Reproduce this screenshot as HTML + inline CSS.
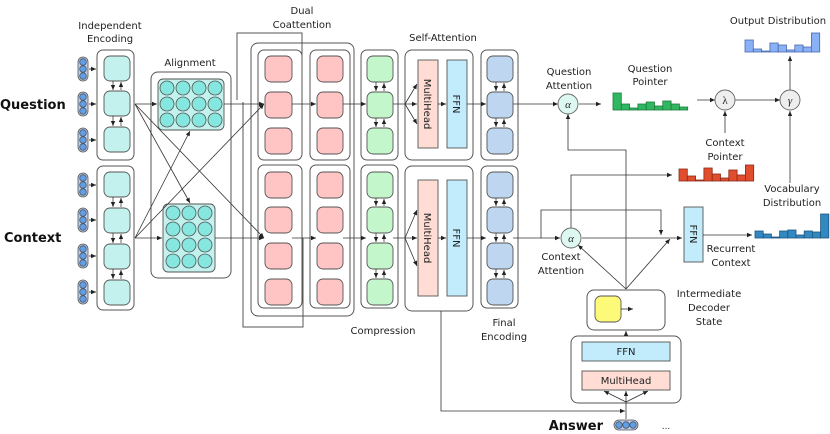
<!DOCTYPE html>
<html><head><meta charset="utf-8"><style>
html,body{margin:0;padding:0;background:#fff;}
svg{display:block;font-family:"DejaVu Sans","Liberation Sans",sans-serif;}
</style></head><body>
<svg width="830" height="434" viewBox="0 0 830 434" xmlns="http://www.w3.org/2000/svg">
<defs>
<marker id="a" markerWidth="6" markerHeight="6" refX="5" refY="3" orient="auto" markerUnits="userSpaceOnUse"><path d="M0,0.8 L5,3 L0,5.2z" fill="#222"/></marker>
</defs>
<g font-size="10" fill="#222" text-anchor="middle">
<text x="110" y="29">Independent</text><text x="110" y="42">Encoding</text>
<text x="190" y="66">Alignment</text>
<text x="302" y="14">Dual</text><text x="302" y="28">Coattention</text>
<text x="443" y="41">Self-Attention</text>
<text x="383" y="334">Compression</text>
<text x="504" y="326">Final</text><text x="504" y="340">Encoding</text>
<text x="569" y="75">Question</text><text x="569" y="89">Attention</text>
<text x="650" y="72">Question</text><text x="650" y="85">Pointer</text>
<text x="778" y="24">Output Distribution</text>
<text x="725" y="146">Context</text><text x="725" y="160">Pointer</text>
<text x="792" y="192">Vocabulary</text><text x="792" y="206">Distribution</text>
<text x="561" y="260">Context</text><text x="561" y="274">Attention</text>
<text x="731" y="252">Recurrent</text><text x="731" y="266">Context</text>
<text x="709" y="297">Intermediate</text><text x="709" y="311">Decoder</text><text x="709" y="325">State</text>
<text x="648" y="312" font-size="9">...</text>
<text x="666" y="429" font-size="9">...</text>
</g>
<g font-weight="bold" font-size="13" fill="#111">
<text x="0" y="109">Question</text><text x="4" y="242">Context</text>
<text x="603" y="430" text-anchor="end">Answer</text>
</g>

<g stroke="#555" stroke-width="0.8">
<g id="wv"><rect x="78" y="57" width="10" height="24" rx="5" fill="#b8cef0"/><circle cx="83" cy="62" r="3.3" fill="#5f9ee8"/><circle cx="83" cy="69" r="3.3" fill="#5f9ee8"/><circle cx="83" cy="76" r="3.3" fill="#5f9ee8"/></g>
<use href="#wv" y="35"/><use href="#wv" y="71"/><use href="#wv" y="116"/><use href="#wv" y="151"/><use href="#wv" y="187"/><use href="#wv" y="223"/>
<rect x="614" y="420" width="24" height="10" rx="5" fill="#b8cef0"/><circle cx="619" cy="425" r="3.3" fill="#5f9ee8"/><circle cx="626" cy="425" r="3.3" fill="#5f9ee8"/><circle cx="633" cy="425" r="3.3" fill="#5f9ee8"/>
</g>
<g stroke="#222" stroke-width="0.8" marker-end="url(#a)">
<line x1="89" y1="69" x2="96" y2="69"/><line x1="89" y1="104" x2="96" y2="104"/><line x1="89" y1="140" x2="96" y2="140"/>
<line x1="89" y1="185" x2="96" y2="185"/><line x1="89" y1="220" x2="96" y2="220"/><line x1="89" y1="256" x2="96" y2="256"/><line x1="89" y1="292" x2="96" y2="292"/>
</g>

<g fill="#fff" stroke="#555" stroke-width="1">
<rect x="97" y="50" width="37" height="110" rx="6"/><rect x="97" y="166" width="37" height="144" rx="6"/>
<rect x="151" y="72" width="80" height="206" rx="7"/>
<rect x="251" y="43" width="103" height="273" rx="7"/>
<rect x="258" y="50" width="44" height="110" rx="6"/><rect x="258" y="165" width="44" height="143" rx="6"/>
<rect x="310" y="50" width="40" height="110" rx="6"/><rect x="310" y="165" width="40" height="143" rx="6"/>
<rect x="361" y="50" width="37" height="110" rx="6"/><rect x="361" y="165" width="37" height="143" rx="6"/>
<rect x="405" y="50" width="68" height="110" rx="7"/><rect x="405" y="166" width="68" height="145" rx="7"/>
<rect x="481" y="50" width="37" height="110" rx="6"/><rect x="481" y="166" width="37" height="142" rx="6"/>
<rect x="587" y="290" width="78" height="40" rx="7"/>
<rect x="571" y="336" width="110" height="67" rx="7"/>
</g>
<g fill="none" stroke="#555" stroke-width="1">
<polyline points="237,100 237,33 302,33 302,100"/>
<polyline points="243,102 243,327 303,327 303,238"/>
</g>

<g stroke="#555" stroke-width="0.9">
<g fill="#c3f1ed">
<rect x="104" y="56" width="26" height="25" rx="6"/><rect x="104" y="91" width="26" height="25" rx="6"/><rect x="104" y="127" width="26" height="25" rx="6"/>
<rect x="104" y="172" width="26" height="25" rx="6"/><rect x="104" y="208" width="26" height="25" rx="6"/><rect x="104" y="244" width="26" height="25" rx="6"/><rect x="104" y="280" width="26" height="25" rx="6"/>
<rect x="158" y="79" width="66" height="51" rx="5"/><rect x="163" y="204" width="52" height="68" rx="5"/>
</g>
<g fill="#ffc4c4">
<rect x="265" y="56" width="27" height="26" rx="6"/><rect x="265" y="92" width="27" height="26" rx="6"/><rect x="265" y="128" width="27" height="26" rx="6"/>
<rect x="265" y="172" width="27" height="26" rx="6"/><rect x="265" y="207" width="27" height="26" rx="6"/><rect x="265" y="243" width="27" height="26" rx="6"/><rect x="265" y="279" width="27" height="26" rx="6"/>
<rect x="317" y="56" width="26" height="26" rx="6"/><rect x="317" y="92" width="26" height="26" rx="6"/><rect x="317" y="128" width="26" height="26" rx="6"/>
<rect x="317" y="172" width="26" height="26" rx="6"/><rect x="317" y="207" width="26" height="26" rx="6"/><rect x="317" y="243" width="26" height="26" rx="6"/><rect x="317" y="279" width="26" height="26" rx="6"/>
</g>
<g fill="#c4f6cc">
<rect x="367" y="56" width="26" height="26" rx="6"/><rect x="367" y="92" width="26" height="26" rx="6"/><rect x="367" y="128" width="26" height="26" rx="6"/>
<rect x="367" y="172" width="26" height="26" rx="6"/><rect x="367" y="207" width="26" height="26" rx="6"/><rect x="367" y="243" width="26" height="26" rx="6"/><rect x="367" y="279" width="26" height="26" rx="6"/>
</g>
<g fill="#bed6f0">
<rect x="487" y="56" width="26" height="26" rx="6"/><rect x="487" y="92" width="26" height="26" rx="6"/><rect x="487" y="128" width="26" height="26" rx="6"/>
<rect x="487" y="172" width="26" height="26" rx="6"/><rect x="487" y="207" width="26" height="26" rx="6"/><rect x="487" y="243" width="26" height="26" rx="6"/><rect x="487" y="279" width="26" height="26" rx="6"/>
</g>
<rect x="595" y="296" width="26" height="26" rx="6" fill="#fdfa7a"/>
<g fill="#ffdcd4"><rect x="418" y="60" width="20" height="88"/><rect x="418" y="180" width="20" height="116"/><rect x="582" y="371" width="88" height="19"/></g>
<g fill="#c2ecfc"><rect x="447" y="60" width="20" height="88"/><rect x="447" y="180" width="20" height="116"/><rect x="582" y="342" width="88" height="19"/><rect x="684" y="207" width="19" height="55"/></g>
</g>
<g fill="#86e6e0" stroke="#555" stroke-width="0.8">
<circle cx="167" cy="88" r="7"/><circle cx="183" cy="88" r="7"/><circle cx="199" cy="88" r="7"/><circle cx="215" cy="88" r="7"/>
<circle cx="167" cy="104" r="7"/><circle cx="183" cy="104" r="7"/><circle cx="199" cy="104" r="7"/><circle cx="215" cy="104" r="7"/>
<circle cx="167" cy="120" r="7"/><circle cx="183" cy="120" r="7"/><circle cx="199" cy="120" r="7"/><circle cx="215" cy="120" r="7"/>
<circle cx="173" cy="213" r="7"/><circle cx="189" cy="213" r="7"/><circle cx="205" cy="213" r="7"/>
<circle cx="173" cy="229" r="7"/><circle cx="189" cy="229" r="7"/><circle cx="205" cy="229" r="7"/>
<circle cx="173" cy="245" r="7"/><circle cx="189" cy="245" r="7"/><circle cx="205" cy="245" r="7"/>
<circle cx="173" cy="261" r="7"/><circle cx="189" cy="261" r="7"/><circle cx="205" cy="261" r="7"/>
</g>
<g font-size="10" fill="#222" text-anchor="middle">
<text transform="translate(424,104) rotate(90)">MultiHead</text>
<text transform="translate(453,104) rotate(90)">FFN</text>
<text transform="translate(424,238) rotate(90)">MultiHead</text>
<text transform="translate(453,238) rotate(90)">FFN</text>
<text transform="translate(690,234) rotate(90)">FFN</text>
<text x="626" y="355">FFN</text><text x="626" y="384">MultiHead</text>
</g>

<g stroke="#222" stroke-width="0.7" marker-end="url(#a)">
<line x1="113" y1="81" x2="113" y2="90"/><line x1="121" y1="90" x2="121" y2="82"/>
<line x1="113" y1="116" x2="113" y2="126"/><line x1="121" y1="126" x2="121" y2="117"/>
<line x1="113" y1="197" x2="113" y2="207"/><line x1="121" y1="207" x2="121" y2="198"/>
<line x1="113" y1="233" x2="113" y2="243"/><line x1="121" y1="243" x2="121" y2="234"/>
<line x1="113" y1="269" x2="113" y2="279"/><line x1="121" y1="279" x2="121" y2="270"/>
<line x1="376" y1="82" x2="376" y2="91"/><line x1="384" y1="91" x2="384" y2="83"/>
<line x1="376" y1="118" x2="376" y2="127"/><line x1="384" y1="127" x2="384" y2="119"/>
<line x1="376" y1="198" x2="376" y2="206"/><line x1="384" y1="206" x2="384" y2="199"/>
<line x1="376" y1="233" x2="376" y2="242"/><line x1="384" y1="242" x2="384" y2="234"/>
<line x1="376" y1="269" x2="376" y2="278"/><line x1="384" y1="278" x2="384" y2="270"/>
<line x1="496" y1="82" x2="496" y2="91"/><line x1="504" y1="91" x2="504" y2="83"/>
<line x1="496" y1="118" x2="496" y2="127"/><line x1="504" y1="127" x2="504" y2="119"/>
<line x1="496" y1="198" x2="496" y2="206"/><line x1="504" y1="206" x2="504" y2="199"/>
<line x1="496" y1="233" x2="496" y2="242"/><line x1="504" y1="242" x2="504" y2="234"/>
<line x1="496" y1="269" x2="496" y2="278"/><line x1="504" y1="278" x2="504" y2="270"/>
</g>

<g stroke="#333" stroke-width="0.8" fill="none" marker-end="url(#a)">
<line x1="135" y1="104" x2="157" y2="104"/><line x1="135" y1="104" x2="190" y2="203"/><line x1="135" y1="104" x2="264" y2="238"/>
<line x1="135" y1="238" x2="162" y2="238"/><line x1="135" y1="238" x2="190" y2="131"/><line x1="135" y1="238" x2="264" y2="104"/>
<line x1="224" y1="104" x2="264" y2="104"/><line x1="215" y1="238" x2="264" y2="238"/>
<line x1="292" y1="104" x2="316" y2="104"/><line x1="292" y1="238" x2="316" y2="238"/>
<line x1="343" y1="104" x2="366" y2="104"/><line x1="343" y1="238" x2="366" y2="238"/>
<line x1="393" y1="104" x2="417" y2="104"/><line x1="405" y1="104" x2="417" y2="84"/><line x1="405" y1="104" x2="417" y2="124"/>
<line x1="393" y1="238" x2="417" y2="238"/><line x1="405" y1="238" x2="417" y2="210"/><line x1="405" y1="238" x2="417" y2="266"/>
<line x1="438" y1="104" x2="446" y2="104"/><line x1="438" y1="238" x2="446" y2="238"/>
<line x1="467" y1="104" x2="486" y2="104"/><line x1="467" y1="238" x2="486" y2="238"/>
<line x1="513" y1="104" x2="558" y2="104"/><line x1="513" y1="238" x2="560" y2="238"/>
<line x1="579" y1="104" x2="601" y2="104"/>
<line x1="697" y1="100" x2="715" y2="100"/><line x1="735" y1="100" x2="780" y2="100"/>
<line x1="790" y1="90" x2="790" y2="56"/>
<line x1="725" y1="133" x2="725" y2="111"/>
<line x1="790" y1="183" x2="790" y2="111"/>
<polyline points="626,289 626,150 568,150 568,114"/>
<polyline points="571,228 571,175 672,175"/>
<polyline points="541,238 541,210 661,210 661,235"/>
<line x1="582" y1="238" x2="682" y2="238"/>
<line x1="626" y1="289" x2="578" y2="245"/>
<line x1="626" y1="289" x2="670" y2="239"/>
<line x1="703" y1="235" x2="752" y2="235"/>
<line x1="621" y1="309" x2="633" y2="309"/>
<line x1="626" y1="336" x2="626" y2="331"/>
<polyline points="441,311 441,411 625,411"/>
<line x1="626" y1="419" x2="626" y2="391"/>
<line x1="626" y1="402" x2="604" y2="391"/><line x1="626" y1="402" x2="648" y2="391"/>
</g>

<g stroke="#666" stroke-width="0.9">
<circle cx="568" cy="104" r="10" fill="#dcf8f0"/><circle cx="571" cy="238" r="10" fill="#dcf8f0"/>
<circle cx="725" cy="100" r="10" fill="#eee"/><circle cx="790" cy="100" r="10" fill="#eee"/>
</g>
<g font-family="Liberation Serif,serif" font-style="italic" font-size="11" text-anchor="middle" fill="#222">
<text x="568" y="108">α</text><text x="571" y="242">α</text><text x="725" y="104" font-style="normal">λ</text><text x="790" y="104">γ</text>
</g>

<g stroke-width="0.8">
<g fill="#30b860" stroke="#1e7a3c">
<rect x="613" y="93" width="8.3" height="17"/><rect x="621.3" y="104" width="8.3" height="6"/><rect x="629.6" y="108" width="8.3" height="2"/><rect x="637.9" y="104" width="8.3" height="6"/><rect x="646.2" y="102" width="8.3" height="8"/><rect x="654.5" y="106" width="8.3" height="4"/><rect x="662.8" y="101" width="8.3" height="9"/><rect x="671.1" y="104" width="8.3" height="6"/><rect x="679.4" y="107" width="8.3" height="3"/>
</g>
<g fill="#e04e2e" stroke="#8a2a18">
<rect x="679" y="169" width="8.3" height="12"/><rect x="687.3" y="176" width="8.3" height="5"/><rect x="695.6" y="180" width="8.3" height="1"/><rect x="703.9" y="168" width="8.3" height="13"/><rect x="712.2" y="174" width="8.3" height="7"/><rect x="720.5" y="178" width="8.3" height="3"/><rect x="728.8" y="170" width="8.3" height="11"/><rect x="737.1" y="175" width="8.3" height="6"/><rect x="745.4" y="165" width="8.3" height="16"/>
</g>
<g fill="#3288c0" stroke="#1c5680">
<rect x="755" y="231" width="8.2" height="7"/><rect x="763.2" y="234" width="8.2" height="4"/><rect x="771.4" y="237" width="8.2" height="1"/><rect x="779.6" y="231" width="8.2" height="7"/><rect x="787.8" y="230" width="8.2" height="8"/><rect x="796" y="235" width="8.2" height="3"/><rect x="804.2" y="231" width="8.2" height="7"/><rect x="812.4" y="232" width="8.2" height="6"/><rect x="820.6" y="214" width="8.2" height="24"/>
</g>
<g fill="#8ab0f6" stroke="#4a6ab0">
<rect x="745" y="40" width="8.3" height="12"/><rect x="753.3" y="49" width="8.3" height="3"/><rect x="761.6" y="51" width="8.3" height="1"/><rect x="769.9" y="43" width="8.3" height="9"/><rect x="778.2" y="45" width="8.3" height="7"/><rect x="786.5" y="50" width="8.3" height="2"/><rect x="794.8" y="45" width="8.3" height="7"/><rect x="803.1" y="47" width="8.3" height="5"/><rect x="811.4" y="33" width="8.3" height="19"/>
</g>
</g>
</svg>
</body></html>
